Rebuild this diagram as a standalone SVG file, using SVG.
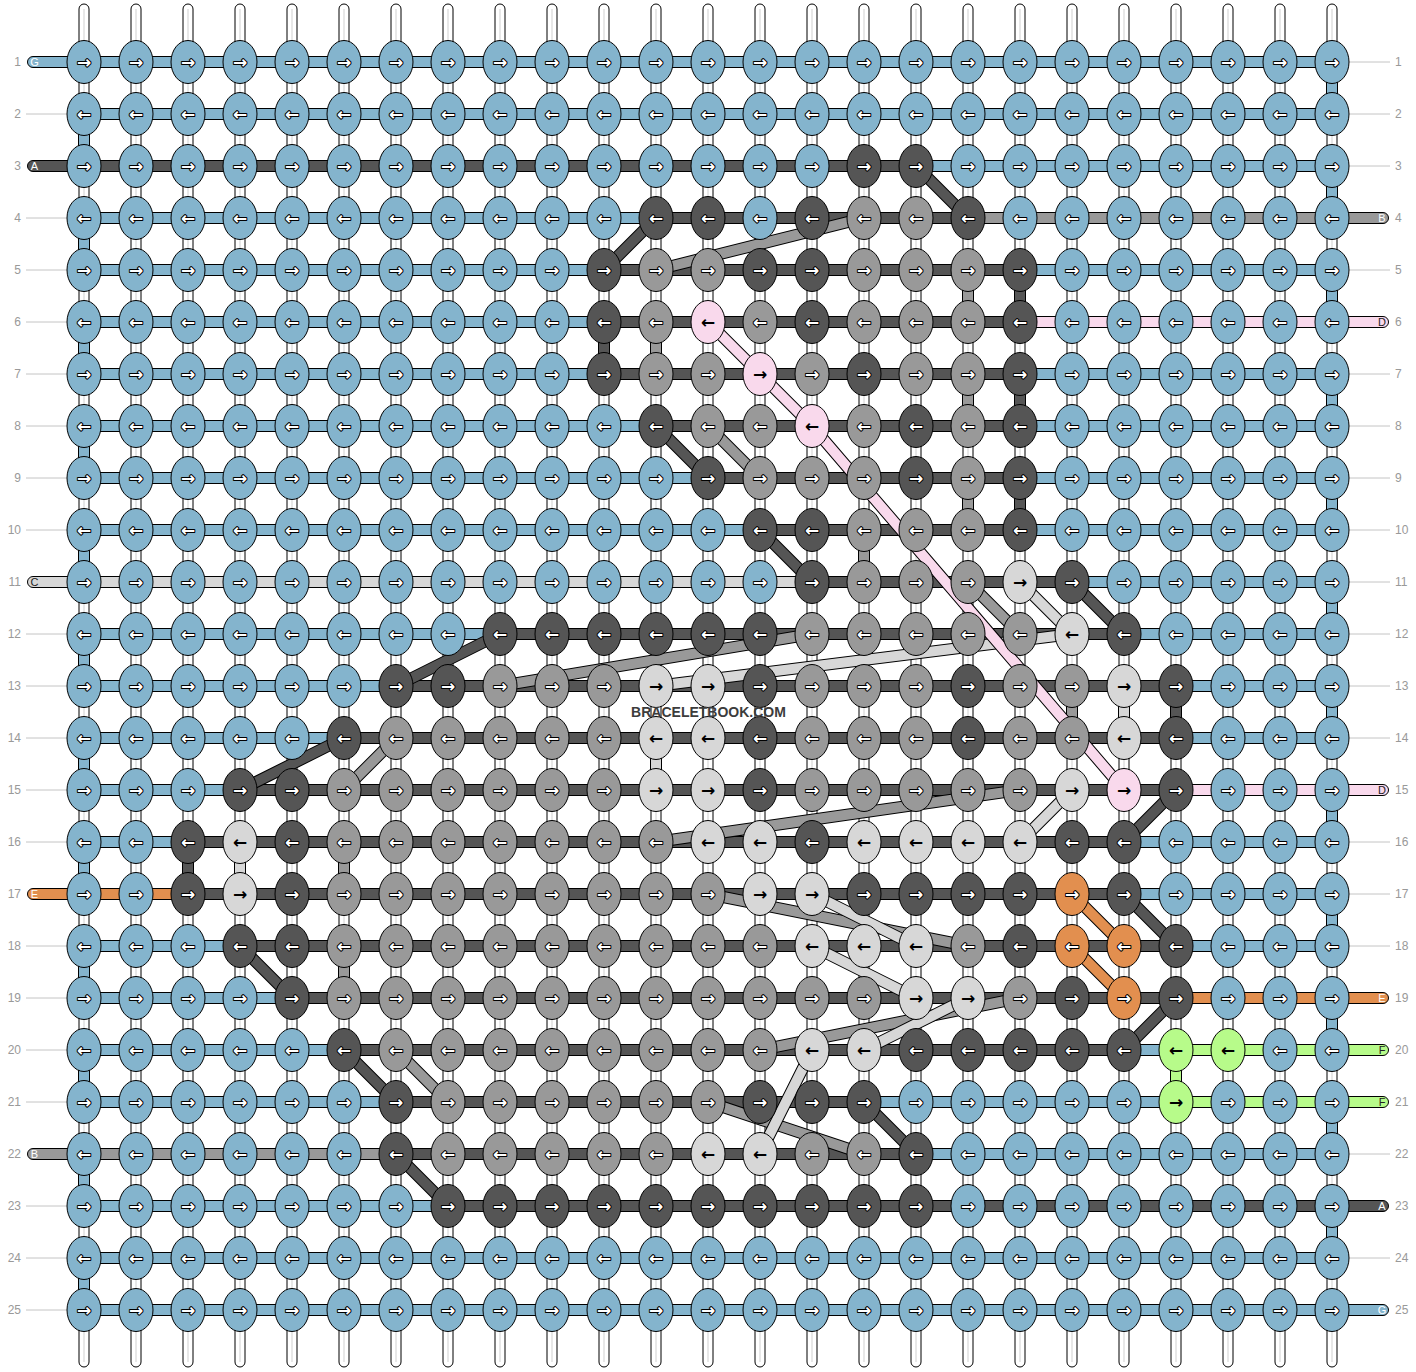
<svg xmlns="http://www.w3.org/2000/svg" width="1416" height="1372" viewBox="0 0 1416 1372">
<style>
.ws{fill:#fff;stroke:#000;stroke-width:1}
.wc{stroke:#cfcfcf;stroke-width:1;fill:none}
.o{fill:none;stroke:#000;stroke-width:12}
.b,.k,.g,.l,.p,.r,.n{fill:none;stroke-width:10}
.b{stroke:#84b4cd}.k{stroke:#555}.g{stroke:#999}.l{stroke:#d7d7d7}.p{stroke:#f9d9ec}.r{stroke:#e28f4f}.n{stroke:#b7fb8a}
.fb{fill:#84b4cd}.fk{fill:#555}.fg{fill:#999}.fl{fill:#d7d7d7}.fp{fill:#f9d9ec}.fr{fill:#e28f4f}.fn{fill:#b7fb8a}
.lab{stroke:#c4c4c4;stroke-width:1;fill:none}
.num{font-family:"Liberation Sans",Arial,sans-serif;font-size:12px;fill:#999}
.ne{text-anchor:end}
.stub{stroke:#000;stroke-width:1}
.sl{font-family:"Liberation Sans",Arial,sans-serif;font-size:11px;text-anchor:middle;dominant-baseline:central;fill:#fff}
.sd{fill:#222}
#knots ellipse{rx:17px;ry:21.5px;fill:#84b4cd;stroke:#000;stroke-width:1}
#knots text{font-family:"DejaVu Sans",sans-serif;font-size:17px;font-weight:bold;text-anchor:middle;dominant-baseline:central;fill:#fff;stroke:#000;stroke-width:2;paint-order:stroke;stroke-linejoin:round}
#knots .K ellipse{fill:#555}
#knots .G ellipse{fill:#999}
#knots .L ellipse{fill:#d7d7d7}
#knots .P ellipse{fill:#f9d9ec}
#knots .O ellipse{fill:#e28f4f}
#knots .N ellipse{fill:#b7fb8a}
#knots .L text,#knots .P text,#knots .N text{fill:#000;stroke:none}
.wm{font-family:"Liberation Sans",Arial,sans-serif;font-size:14px;font-weight:bold;fill:#3c3c3c;text-anchor:middle}
</style>
<g id="strings">
<rect class="ws" x="79" y="4" width="10" height="1363" rx="5"/><rect class="ws" x="131" y="4" width="10" height="1363" rx="5"/><rect class="ws" x="183" y="4" width="10" height="1363" rx="5"/><rect class="ws" x="235" y="4" width="10" height="1363" rx="5"/><rect class="ws" x="287" y="4" width="10" height="1363" rx="5"/><rect class="ws" x="339" y="4" width="10" height="1363" rx="5"/><rect class="ws" x="391" y="4" width="10" height="1363" rx="5"/><rect class="ws" x="443" y="4" width="10" height="1363" rx="5"/><rect class="ws" x="495" y="4" width="10" height="1363" rx="5"/><rect class="ws" x="547" y="4" width="10" height="1363" rx="5"/><rect class="ws" x="599" y="4" width="10" height="1363" rx="5"/><rect class="ws" x="651" y="4" width="10" height="1363" rx="5"/><rect class="ws" x="703" y="4" width="10" height="1363" rx="5"/><rect class="ws" x="755" y="4" width="10" height="1363" rx="5"/><rect class="ws" x="807" y="4" width="10" height="1363" rx="5"/><rect class="ws" x="859" y="4" width="10" height="1363" rx="5"/><rect class="ws" x="911" y="4" width="10" height="1363" rx="5"/><rect class="ws" x="963" y="4" width="10" height="1363" rx="5"/><rect class="ws" x="1015" y="4" width="10" height="1363" rx="5"/><rect class="ws" x="1067" y="4" width="10" height="1363" rx="5"/><rect class="ws" x="1119" y="4" width="10" height="1363" rx="5"/><rect class="ws" x="1171" y="4" width="10" height="1363" rx="5"/><rect class="ws" x="1223" y="4" width="10" height="1363" rx="5"/><rect class="ws" x="1275" y="4" width="10" height="1363" rx="5"/><rect class="ws" x="1327" y="4" width="10" height="1363" rx="5"/>
<path class="wc" d="M84 9V1362M136 9V1362M188 9V1362M240 9V1362M292 9V1362M344 9V1362M396 9V1362M448 9V1362M500 9V1362M552 9V1362M604 9V1362M656 9V1362M708 9V1362M760 9V1362M812 9V1362M864 9V1362M916 9V1362M968 9V1362M1020 9V1362M1072 9V1362M1124 9V1362M1176 9V1362M1228 9V1362M1280 9V1362M1332 9V1362"/>
</g>
<g id="labels">
<path class="lab" d="M26 114H67M26 218H67M26 270H67M26 322H67M26 374H67M26 426H67M26 478H67M26 530H67M26 634H67M26 686H67M26 738H67M26 790H67M26 842H67M26 946H67M26 998H67M26 1050H67M26 1102H67M26 1206H67M26 1258H67M26 1310H67M1349 62H1390M1349 114H1390M1349 166H1390M1349 270H1390M1349 374H1390M1349 426H1390M1349 478H1390M1349 530H1390M1349 582H1390M1349 634H1390M1349 686H1390M1349 738H1390M1349 842H1390M1349 894H1390M1349 946H1390M1349 1154H1390M1349 1258H1390"/>
<text class="num ne" x="21" y="66">1</text><text class="num ne" x="21" y="118">2</text><text class="num ne" x="21" y="170">3</text><text class="num ne" x="21" y="222">4</text><text class="num ne" x="21" y="274">5</text><text class="num ne" x="21" y="326">6</text><text class="num ne" x="21" y="378">7</text><text class="num ne" x="21" y="430">8</text><text class="num ne" x="21" y="482">9</text><text class="num ne" x="21" y="534">10</text><text class="num ne" x="21" y="586">11</text><text class="num ne" x="21" y="638">12</text><text class="num ne" x="21" y="690">13</text><text class="num ne" x="21" y="742">14</text><text class="num ne" x="21" y="794">15</text><text class="num ne" x="21" y="846">16</text><text class="num ne" x="21" y="898">17</text><text class="num ne" x="21" y="950">18</text><text class="num ne" x="21" y="1002">19</text><text class="num ne" x="21" y="1054">20</text><text class="num ne" x="21" y="1106">21</text><text class="num ne" x="21" y="1158">22</text><text class="num ne" x="21" y="1210">23</text><text class="num ne" x="21" y="1262">24</text><text class="num ne" x="21" y="1314">25</text>
<text class="num" x="1395" y="66">1</text><text class="num" x="1395" y="118">2</text><text class="num" x="1395" y="170">3</text><text class="num" x="1395" y="222">4</text><text class="num" x="1395" y="274">5</text><text class="num" x="1395" y="326">6</text><text class="num" x="1395" y="378">7</text><text class="num" x="1395" y="430">8</text><text class="num" x="1395" y="482">9</text><text class="num" x="1395" y="534">10</text><text class="num" x="1395" y="586">11</text><text class="num" x="1395" y="638">12</text><text class="num" x="1395" y="690">13</text><text class="num" x="1395" y="742">14</text><text class="num" x="1395" y="794">15</text><text class="num" x="1395" y="846">16</text><text class="num" x="1395" y="898">17</text><text class="num" x="1395" y="950">18</text><text class="num" x="1395" y="1002">19</text><text class="num" x="1395" y="1054">20</text><text class="num" x="1395" y="1106">21</text><text class="num" x="1395" y="1158">22</text><text class="num" x="1395" y="1210">23</text><text class="num" x="1395" y="1262">24</text><text class="num" x="1395" y="1314">25</text>
</g>
<g id="connectors">
<rect class="stub fb" x="27.5" y="56.5" width="60" height="11" rx="5.5"/>
<rect class="stub fk" x="27.5" y="160.5" width="60" height="11" rx="5.5"/>
<rect class="stub fl" x="27.5" y="576.5" width="60" height="11" rx="5.5"/>
<rect class="stub fr" x="27.5" y="888.5" width="60" height="11" rx="5.5"/>
<rect class="stub fg" x="27.5" y="1148.5" width="60" height="11" rx="5.5"/>
<rect class="stub fg" x="1328.5" y="212.5" width="60" height="11" rx="5.5"/>
<rect class="stub fp" x="1328.5" y="316.5" width="60" height="11" rx="5.5"/>
<rect class="stub fp" x="1328.5" y="784.5" width="60" height="11" rx="5.5"/>
<rect class="stub fr" x="1328.5" y="992.5" width="60" height="11" rx="5.5"/>
<rect class="stub fn" x="1328.5" y="1044.5" width="60" height="11" rx="5.5"/>
<rect class="stub fn" x="1328.5" y="1096.5" width="60" height="11" rx="5.5"/>
<rect class="stub fk" x="1328.5" y="1200.5" width="60" height="11" rx="5.5"/>
<rect class="stub fb" x="1328.5" y="1304.5" width="60" height="11" rx="5.5"/>
<text class="sl" x="34.5" y="62">G</text>
<text class="sl" x="34.5" y="166">A</text>
<text class="sl sd" x="34.5" y="582">C</text>
<text class="sl" x="34.5" y="894">E</text>
<text class="sl" x="34.5" y="1154">B</text>
<text class="sl" x="1382" y="218">B</text>
<text class="sl sd" x="1382" y="322">D</text>
<text class="sl sd" x="1382" y="790">D</text>
<text class="sl" x="1382" y="998">E</text>
<text class="sl sd" x="1382" y="1050">F</text>
<text class="sl sd" x="1382" y="1102">F</text>
<text class="sl" x="1382" y="1206">A</text>
<text class="sl" x="1382" y="1310">G</text>
<path class="o" d="M84 62H1332M84 114H1332M84 166H1332M84 218H1332M84 270H1332M84 322H1332M84 374H1332M84 426H1332M84 478H1332M84 530H1332M84 582H1332M84 634H1332M84 686H1332M84 738H1332M84 790H1332M84 842H1332M84 894H1332M84 946H1332M84 998H1332M84 1050H1332M84 1102H1332M84 1154H1332M84 1206H1332M84 1258H1332M84 1310H1332"/>
<path class="o" d="M1332 62V114M1332 166V218M1332 270V322M1332 374V426M1332 478V530M1332 582V634M1332 686V738M1332 790V842M1332 894V946M1332 998V1050M1332 1102V1154M1332 1206V1258M84 114V166M84 218V270M84 322V374M84 426V478M84 530V582M84 634V686M84 738V790M84 842V894M84 946V998M84 1050V1102M84 1154V1206M84 1258V1310M604 322V374M1020 270V322M1020 374V426M1020 478V530M1176 686V738M188 842V894M656 322V374M968 270V322M968 374V426M968 478V530M864 530V582M1072 686V738M344 842V894M344 946V998M1124 686V738M656 738V790M240 842V894M1176 1050V1102"/>
<path class="b" d="M84 62H1332M84 114H1332M916 166H1332M84 218H656M84 270H604M1020 270H1332M84 322H604M84 374H604M1020 374H1332M84 426H656M1020 426H1332M84 478H708M1020 478H1332M84 530H760M1020 530H1332M1072 582H1332M84 634H500M1124 634H1332M84 686H396M1176 686H1332M84 738H344M1176 738H1332M84 790H240M84 842H188M1124 842H1332M1124 894H1332M84 946H240M1176 946H1332M84 998H292M84 1050H344M1124 1050H1176M84 1102H396M864 1102H1176M916 1154H1332M84 1206H448M84 1258H1332M84 1310H1332M1332 62V114M1332 166V218M1332 270V322M1332 374V426M1332 478V530M1332 582V634M1332 686V738M1332 790V842M1332 894V946M1332 998V1050M1332 1102V1154M1332 1206V1258M84 114V166M84 218V270M84 322V374M84 426V478M84 530V582M84 634V686M84 738V790M84 842V894M84 946V998M84 1050V1102M84 1154V1206M84 1258V1310"/>
<path class="k" d="M84 166H916M656 218H968M604 270H1020M604 322H1020M604 374H1020M656 426H1020M708 478H1020M760 530H1020M812 582H1072M500 634H1124M396 686H1176M344 738H1176M240 790H1176M188 842H1124M188 894H1124M240 946H1176M292 998H1176M344 1050H1124M396 1102H864M396 1154H916M448 1206H1332M604 322V374M1020 270V322M1020 374V426M1020 478V530M1176 686V738M188 842V894"/>
<path class="g" d="M968 218H1332M84 1154H396M656 322V374M968 270V322M968 374V426M968 478V530M864 530V582M1072 686V738M344 842V894M344 946V998"/>
<path class="l" d="M84 582H812M1124 686V738M656 738V790M240 842V894"/>
<path class="p" d="M1020 322H1332M1176 790H1332"/>
<path class="r" d="M84 894H188M1176 998H1332"/>
<path class="n" d="M1176 1050H1332M1176 1102H1332M1176 1050V1102"/>
<path class="o" d="M916 166L968 218M656 218L604 270M656 426L708 478M760 530L812 582M1072 582L1124 634M500 634L396 686M344 738L240 790M1176 790L1124 842M1124 894L1176 946M240 946L292 998M1176 998L1124 1050M344 1050L396 1102M864 1102L916 1154M396 1154L448 1206"/>
<path class="k" d="M916 166L968 218M656 218L604 270M656 426L708 478M760 530L812 582M1072 582L1124 634M500 634L396 686M344 738L240 790M1176 790L1124 842M1124 894L1176 946M240 946L292 998M1176 998L1124 1050M344 1050L396 1102M864 1102L916 1154M396 1154L448 1206"/>
<path class="o" d="M864 218L656 270M708 426L760 478M968 582L1020 634M812 634L500 686M396 738L344 790M1020 790L656 842M708 894L968 946M1020 998L760 1050M396 1050L448 1102M708 1102L864 1154"/>
<path class="g" d="M864 218L656 270M708 426L760 478M968 582L1020 634M812 634L500 686M396 738L344 790M1020 790L656 842M708 894L968 946M1020 998L760 1050M396 1050L448 1102M708 1102L864 1154"/>
<path class="o" d="M1020 582L1072 634M1072 634L656 686M1072 790L1020 842M812 894L916 946M812 946L916 998M968 998L864 1050M812 1050L760 1154"/>
<path class="l" d="M1020 582L1072 634M1072 634L656 686M1072 790L1020 842M812 894L916 946M812 946L916 998M968 998L864 1050M812 1050L760 1154"/>
<path class="o" d="M708 322L760 374M760 374L812 426M812 426L1124 790M1072 894L1124 946M1072 946L1124 998"/>
<path class="p" d="M708 322L760 374M760 374L812 426M812 426L1124 790"/>
<path class="r" d="M1072 894L1124 946M1072 946L1124 998"/>
</g>
<g id="knots">
<g id="row1" transform="translate(0 62)">
<g id="k1_1" transform="translate(84)"><ellipse/><text>→</text></g><g id="k1_2" transform="translate(136)"><ellipse/><text>→</text></g><g id="k1_3" transform="translate(188)"><ellipse/><text>→</text></g><g id="k1_4" transform="translate(240)"><ellipse/><text>→</text></g><g id="k1_5" transform="translate(292)"><ellipse/><text>→</text></g><g id="k1_6" transform="translate(344)"><ellipse/><text>→</text></g><g id="k1_7" transform="translate(396)"><ellipse/><text>→</text></g><g id="k1_8" transform="translate(448)"><ellipse/><text>→</text></g><g id="k1_9" transform="translate(500)"><ellipse/><text>→</text></g><g id="k1_10" transform="translate(552)"><ellipse/><text>→</text></g><g id="k1_11" transform="translate(604)"><ellipse/><text>→</text></g><g id="k1_12" transform="translate(656)"><ellipse/><text>→</text></g><g id="k1_13" transform="translate(708)"><ellipse/><text>→</text></g><g id="k1_14" transform="translate(760)"><ellipse/><text>→</text></g><g id="k1_15" transform="translate(812)"><ellipse/><text>→</text></g><g id="k1_16" transform="translate(864)"><ellipse/><text>→</text></g><g id="k1_17" transform="translate(916)"><ellipse/><text>→</text></g><g id="k1_18" transform="translate(968)"><ellipse/><text>→</text></g><g id="k1_19" transform="translate(1020)"><ellipse/><text>→</text></g><g id="k1_20" transform="translate(1072)"><ellipse/><text>→</text></g><g id="k1_21" transform="translate(1124)"><ellipse/><text>→</text></g><g id="k1_22" transform="translate(1176)"><ellipse/><text>→</text></g><g id="k1_23" transform="translate(1228)"><ellipse/><text>→</text></g><g id="k1_24" transform="translate(1280)"><ellipse/><text>→</text></g><g id="k1_25" transform="translate(1332)"><ellipse/><text>→</text></g>
</g>
<g id="row2" transform="translate(0 114)">
<g id="k2_1" transform="translate(84)"><ellipse/><text>←</text></g><g id="k2_2" transform="translate(136)"><ellipse/><text>←</text></g><g id="k2_3" transform="translate(188)"><ellipse/><text>←</text></g><g id="k2_4" transform="translate(240)"><ellipse/><text>←</text></g><g id="k2_5" transform="translate(292)"><ellipse/><text>←</text></g><g id="k2_6" transform="translate(344)"><ellipse/><text>←</text></g><g id="k2_7" transform="translate(396)"><ellipse/><text>←</text></g><g id="k2_8" transform="translate(448)"><ellipse/><text>←</text></g><g id="k2_9" transform="translate(500)"><ellipse/><text>←</text></g><g id="k2_10" transform="translate(552)"><ellipse/><text>←</text></g><g id="k2_11" transform="translate(604)"><ellipse/><text>←</text></g><g id="k2_12" transform="translate(656)"><ellipse/><text>←</text></g><g id="k2_13" transform="translate(708)"><ellipse/><text>←</text></g><g id="k2_14" transform="translate(760)"><ellipse/><text>←</text></g><g id="k2_15" transform="translate(812)"><ellipse/><text>←</text></g><g id="k2_16" transform="translate(864)"><ellipse/><text>←</text></g><g id="k2_17" transform="translate(916)"><ellipse/><text>←</text></g><g id="k2_18" transform="translate(968)"><ellipse/><text>←</text></g><g id="k2_19" transform="translate(1020)"><ellipse/><text>←</text></g><g id="k2_20" transform="translate(1072)"><ellipse/><text>←</text></g><g id="k2_21" transform="translate(1124)"><ellipse/><text>←</text></g><g id="k2_22" transform="translate(1176)"><ellipse/><text>←</text></g><g id="k2_23" transform="translate(1228)"><ellipse/><text>←</text></g><g id="k2_24" transform="translate(1280)"><ellipse/><text>←</text></g><g id="k2_25" transform="translate(1332)"><ellipse/><text>←</text></g>
</g>
<g id="row3" transform="translate(0 166)">
<g id="k3_1" transform="translate(84)"><ellipse/><text>→</text></g><g id="k3_2" transform="translate(136)"><ellipse/><text>→</text></g><g id="k3_3" transform="translate(188)"><ellipse/><text>→</text></g><g id="k3_4" transform="translate(240)"><ellipse/><text>→</text></g><g id="k3_5" transform="translate(292)"><ellipse/><text>→</text></g><g id="k3_6" transform="translate(344)"><ellipse/><text>→</text></g><g id="k3_7" transform="translate(396)"><ellipse/><text>→</text></g><g id="k3_8" transform="translate(448)"><ellipse/><text>→</text></g><g id="k3_9" transform="translate(500)"><ellipse/><text>→</text></g><g id="k3_10" transform="translate(552)"><ellipse/><text>→</text></g><g id="k3_11" transform="translate(604)"><ellipse/><text>→</text></g><g id="k3_12" transform="translate(656)"><ellipse/><text>→</text></g><g id="k3_13" transform="translate(708)"><ellipse/><text>→</text></g><g id="k3_14" transform="translate(760)"><ellipse/><text>→</text></g><g id="k3_15" transform="translate(812)"><ellipse/><text>→</text></g><g id="k3_16" class="K" transform="translate(864)"><ellipse/><text>→</text></g><g id="k3_17" class="K" transform="translate(916)"><ellipse/><text>→</text></g><g id="k3_18" transform="translate(968)"><ellipse/><text>→</text></g><g id="k3_19" transform="translate(1020)"><ellipse/><text>→</text></g><g id="k3_20" transform="translate(1072)"><ellipse/><text>→</text></g><g id="k3_21" transform="translate(1124)"><ellipse/><text>→</text></g><g id="k3_22" transform="translate(1176)"><ellipse/><text>→</text></g><g id="k3_23" transform="translate(1228)"><ellipse/><text>→</text></g><g id="k3_24" transform="translate(1280)"><ellipse/><text>→</text></g><g id="k3_25" transform="translate(1332)"><ellipse/><text>→</text></g>
</g>
<g id="row4" transform="translate(0 218)">
<g id="k4_1" transform="translate(84)"><ellipse/><text>←</text></g><g id="k4_2" transform="translate(136)"><ellipse/><text>←</text></g><g id="k4_3" transform="translate(188)"><ellipse/><text>←</text></g><g id="k4_4" transform="translate(240)"><ellipse/><text>←</text></g><g id="k4_5" transform="translate(292)"><ellipse/><text>←</text></g><g id="k4_6" transform="translate(344)"><ellipse/><text>←</text></g><g id="k4_7" transform="translate(396)"><ellipse/><text>←</text></g><g id="k4_8" transform="translate(448)"><ellipse/><text>←</text></g><g id="k4_9" transform="translate(500)"><ellipse/><text>←</text></g><g id="k4_10" transform="translate(552)"><ellipse/><text>←</text></g><g id="k4_11" transform="translate(604)"><ellipse/><text>←</text></g><g id="k4_12" class="K" transform="translate(656)"><ellipse/><text>←</text></g><g id="k4_13" class="K" transform="translate(708)"><ellipse/><text>←</text></g><g id="k4_14" transform="translate(760)"><ellipse/><text>←</text></g><g id="k4_15" class="K" transform="translate(812)"><ellipse/><text>←</text></g><g id="k4_16" class="G" transform="translate(864)"><ellipse/><text>←</text></g><g id="k4_17" class="G" transform="translate(916)"><ellipse/><text>←</text></g><g id="k4_18" class="K" transform="translate(968)"><ellipse/><text>←</text></g><g id="k4_19" transform="translate(1020)"><ellipse/><text>←</text></g><g id="k4_20" transform="translate(1072)"><ellipse/><text>←</text></g><g id="k4_21" transform="translate(1124)"><ellipse/><text>←</text></g><g id="k4_22" transform="translate(1176)"><ellipse/><text>←</text></g><g id="k4_23" transform="translate(1228)"><ellipse/><text>←</text></g><g id="k4_24" transform="translate(1280)"><ellipse/><text>←</text></g><g id="k4_25" transform="translate(1332)"><ellipse/><text>←</text></g>
</g>
<g id="row5" transform="translate(0 270)">
<g id="k5_1" transform="translate(84)"><ellipse/><text>→</text></g><g id="k5_2" transform="translate(136)"><ellipse/><text>→</text></g><g id="k5_3" transform="translate(188)"><ellipse/><text>→</text></g><g id="k5_4" transform="translate(240)"><ellipse/><text>→</text></g><g id="k5_5" transform="translate(292)"><ellipse/><text>→</text></g><g id="k5_6" transform="translate(344)"><ellipse/><text>→</text></g><g id="k5_7" transform="translate(396)"><ellipse/><text>→</text></g><g id="k5_8" transform="translate(448)"><ellipse/><text>→</text></g><g id="k5_9" transform="translate(500)"><ellipse/><text>→</text></g><g id="k5_10" transform="translate(552)"><ellipse/><text>→</text></g><g id="k5_11" class="K" transform="translate(604)"><ellipse/><text>→</text></g><g id="k5_12" class="G" transform="translate(656)"><ellipse/><text>→</text></g><g id="k5_13" class="G" transform="translate(708)"><ellipse/><text>→</text></g><g id="k5_14" class="K" transform="translate(760)"><ellipse/><text>→</text></g><g id="k5_15" class="K" transform="translate(812)"><ellipse/><text>→</text></g><g id="k5_16" class="G" transform="translate(864)"><ellipse/><text>→</text></g><g id="k5_17" class="G" transform="translate(916)"><ellipse/><text>→</text></g><g id="k5_18" class="G" transform="translate(968)"><ellipse/><text>→</text></g><g id="k5_19" class="K" transform="translate(1020)"><ellipse/><text>→</text></g><g id="k5_20" transform="translate(1072)"><ellipse/><text>→</text></g><g id="k5_21" transform="translate(1124)"><ellipse/><text>→</text></g><g id="k5_22" transform="translate(1176)"><ellipse/><text>→</text></g><g id="k5_23" transform="translate(1228)"><ellipse/><text>→</text></g><g id="k5_24" transform="translate(1280)"><ellipse/><text>→</text></g><g id="k5_25" transform="translate(1332)"><ellipse/><text>→</text></g>
</g>
<g id="row6" transform="translate(0 322)">
<g id="k6_1" transform="translate(84)"><ellipse/><text>←</text></g><g id="k6_2" transform="translate(136)"><ellipse/><text>←</text></g><g id="k6_3" transform="translate(188)"><ellipse/><text>←</text></g><g id="k6_4" transform="translate(240)"><ellipse/><text>←</text></g><g id="k6_5" transform="translate(292)"><ellipse/><text>←</text></g><g id="k6_6" transform="translate(344)"><ellipse/><text>←</text></g><g id="k6_7" transform="translate(396)"><ellipse/><text>←</text></g><g id="k6_8" transform="translate(448)"><ellipse/><text>←</text></g><g id="k6_9" transform="translate(500)"><ellipse/><text>←</text></g><g id="k6_10" transform="translate(552)"><ellipse/><text>←</text></g><g id="k6_11" class="K" transform="translate(604)"><ellipse/><text>←</text></g><g id="k6_12" class="G" transform="translate(656)"><ellipse/><text>←</text></g><g id="k6_13" class="P" transform="translate(708)"><ellipse/><text>←</text></g><g id="k6_14" class="G" transform="translate(760)"><ellipse/><text>←</text></g><g id="k6_15" class="K" transform="translate(812)"><ellipse/><text>←</text></g><g id="k6_16" class="G" transform="translate(864)"><ellipse/><text>←</text></g><g id="k6_17" class="G" transform="translate(916)"><ellipse/><text>←</text></g><g id="k6_18" class="G" transform="translate(968)"><ellipse/><text>←</text></g><g id="k6_19" class="K" transform="translate(1020)"><ellipse/><text>←</text></g><g id="k6_20" transform="translate(1072)"><ellipse/><text>←</text></g><g id="k6_21" transform="translate(1124)"><ellipse/><text>←</text></g><g id="k6_22" transform="translate(1176)"><ellipse/><text>←</text></g><g id="k6_23" transform="translate(1228)"><ellipse/><text>←</text></g><g id="k6_24" transform="translate(1280)"><ellipse/><text>←</text></g><g id="k6_25" transform="translate(1332)"><ellipse/><text>←</text></g>
</g>
<g id="row7" transform="translate(0 374)">
<g id="k7_1" transform="translate(84)"><ellipse/><text>→</text></g><g id="k7_2" transform="translate(136)"><ellipse/><text>→</text></g><g id="k7_3" transform="translate(188)"><ellipse/><text>→</text></g><g id="k7_4" transform="translate(240)"><ellipse/><text>→</text></g><g id="k7_5" transform="translate(292)"><ellipse/><text>→</text></g><g id="k7_6" transform="translate(344)"><ellipse/><text>→</text></g><g id="k7_7" transform="translate(396)"><ellipse/><text>→</text></g><g id="k7_8" transform="translate(448)"><ellipse/><text>→</text></g><g id="k7_9" transform="translate(500)"><ellipse/><text>→</text></g><g id="k7_10" transform="translate(552)"><ellipse/><text>→</text></g><g id="k7_11" class="K" transform="translate(604)"><ellipse/><text>→</text></g><g id="k7_12" class="G" transform="translate(656)"><ellipse/><text>→</text></g><g id="k7_13" class="G" transform="translate(708)"><ellipse/><text>→</text></g><g id="k7_14" class="P" transform="translate(760)"><ellipse/><text>→</text></g><g id="k7_15" class="G" transform="translate(812)"><ellipse/><text>→</text></g><g id="k7_16" class="K" transform="translate(864)"><ellipse/><text>→</text></g><g id="k7_17" class="G" transform="translate(916)"><ellipse/><text>→</text></g><g id="k7_18" class="G" transform="translate(968)"><ellipse/><text>→</text></g><g id="k7_19" class="K" transform="translate(1020)"><ellipse/><text>→</text></g><g id="k7_20" transform="translate(1072)"><ellipse/><text>→</text></g><g id="k7_21" transform="translate(1124)"><ellipse/><text>→</text></g><g id="k7_22" transform="translate(1176)"><ellipse/><text>→</text></g><g id="k7_23" transform="translate(1228)"><ellipse/><text>→</text></g><g id="k7_24" transform="translate(1280)"><ellipse/><text>→</text></g><g id="k7_25" transform="translate(1332)"><ellipse/><text>→</text></g>
</g>
<g id="row8" transform="translate(0 426)">
<g id="k8_1" transform="translate(84)"><ellipse/><text>←</text></g><g id="k8_2" transform="translate(136)"><ellipse/><text>←</text></g><g id="k8_3" transform="translate(188)"><ellipse/><text>←</text></g><g id="k8_4" transform="translate(240)"><ellipse/><text>←</text></g><g id="k8_5" transform="translate(292)"><ellipse/><text>←</text></g><g id="k8_6" transform="translate(344)"><ellipse/><text>←</text></g><g id="k8_7" transform="translate(396)"><ellipse/><text>←</text></g><g id="k8_8" transform="translate(448)"><ellipse/><text>←</text></g><g id="k8_9" transform="translate(500)"><ellipse/><text>←</text></g><g id="k8_10" transform="translate(552)"><ellipse/><text>←</text></g><g id="k8_11" transform="translate(604)"><ellipse/><text>←</text></g><g id="k8_12" class="K" transform="translate(656)"><ellipse/><text>←</text></g><g id="k8_13" class="G" transform="translate(708)"><ellipse/><text>←</text></g><g id="k8_14" class="G" transform="translate(760)"><ellipse/><text>←</text></g><g id="k8_15" class="P" transform="translate(812)"><ellipse/><text>←</text></g><g id="k8_16" class="G" transform="translate(864)"><ellipse/><text>←</text></g><g id="k8_17" class="K" transform="translate(916)"><ellipse/><text>←</text></g><g id="k8_18" class="G" transform="translate(968)"><ellipse/><text>←</text></g><g id="k8_19" class="K" transform="translate(1020)"><ellipse/><text>←</text></g><g id="k8_20" transform="translate(1072)"><ellipse/><text>←</text></g><g id="k8_21" transform="translate(1124)"><ellipse/><text>←</text></g><g id="k8_22" transform="translate(1176)"><ellipse/><text>←</text></g><g id="k8_23" transform="translate(1228)"><ellipse/><text>←</text></g><g id="k8_24" transform="translate(1280)"><ellipse/><text>←</text></g><g id="k8_25" transform="translate(1332)"><ellipse/><text>←</text></g>
</g>
<g id="row9" transform="translate(0 478)">
<g id="k9_1" transform="translate(84)"><ellipse/><text>→</text></g><g id="k9_2" transform="translate(136)"><ellipse/><text>→</text></g><g id="k9_3" transform="translate(188)"><ellipse/><text>→</text></g><g id="k9_4" transform="translate(240)"><ellipse/><text>→</text></g><g id="k9_5" transform="translate(292)"><ellipse/><text>→</text></g><g id="k9_6" transform="translate(344)"><ellipse/><text>→</text></g><g id="k9_7" transform="translate(396)"><ellipse/><text>→</text></g><g id="k9_8" transform="translate(448)"><ellipse/><text>→</text></g><g id="k9_9" transform="translate(500)"><ellipse/><text>→</text></g><g id="k9_10" transform="translate(552)"><ellipse/><text>→</text></g><g id="k9_11" transform="translate(604)"><ellipse/><text>→</text></g><g id="k9_12" transform="translate(656)"><ellipse/><text>→</text></g><g id="k9_13" class="K" transform="translate(708)"><ellipse/><text>→</text></g><g id="k9_14" class="G" transform="translate(760)"><ellipse/><text>→</text></g><g id="k9_15" class="G" transform="translate(812)"><ellipse/><text>→</text></g><g id="k9_16" class="G" transform="translate(864)"><ellipse/><text>→</text></g><g id="k9_17" class="K" transform="translate(916)"><ellipse/><text>→</text></g><g id="k9_18" class="G" transform="translate(968)"><ellipse/><text>→</text></g><g id="k9_19" class="K" transform="translate(1020)"><ellipse/><text>→</text></g><g id="k9_20" transform="translate(1072)"><ellipse/><text>→</text></g><g id="k9_21" transform="translate(1124)"><ellipse/><text>→</text></g><g id="k9_22" transform="translate(1176)"><ellipse/><text>→</text></g><g id="k9_23" transform="translate(1228)"><ellipse/><text>→</text></g><g id="k9_24" transform="translate(1280)"><ellipse/><text>→</text></g><g id="k9_25" transform="translate(1332)"><ellipse/><text>→</text></g>
</g>
<g id="row10" transform="translate(0 530)">
<g id="k10_1" transform="translate(84)"><ellipse/><text>←</text></g><g id="k10_2" transform="translate(136)"><ellipse/><text>←</text></g><g id="k10_3" transform="translate(188)"><ellipse/><text>←</text></g><g id="k10_4" transform="translate(240)"><ellipse/><text>←</text></g><g id="k10_5" transform="translate(292)"><ellipse/><text>←</text></g><g id="k10_6" transform="translate(344)"><ellipse/><text>←</text></g><g id="k10_7" transform="translate(396)"><ellipse/><text>←</text></g><g id="k10_8" transform="translate(448)"><ellipse/><text>←</text></g><g id="k10_9" transform="translate(500)"><ellipse/><text>←</text></g><g id="k10_10" transform="translate(552)"><ellipse/><text>←</text></g><g id="k10_11" transform="translate(604)"><ellipse/><text>←</text></g><g id="k10_12" transform="translate(656)"><ellipse/><text>←</text></g><g id="k10_13" transform="translate(708)"><ellipse/><text>←</text></g><g id="k10_14" class="K" transform="translate(760)"><ellipse/><text>←</text></g><g id="k10_15" class="K" transform="translate(812)"><ellipse/><text>←</text></g><g id="k10_16" class="G" transform="translate(864)"><ellipse/><text>←</text></g><g id="k10_17" class="G" transform="translate(916)"><ellipse/><text>←</text></g><g id="k10_18" class="G" transform="translate(968)"><ellipse/><text>←</text></g><g id="k10_19" class="K" transform="translate(1020)"><ellipse/><text>←</text></g><g id="k10_20" transform="translate(1072)"><ellipse/><text>←</text></g><g id="k10_21" transform="translate(1124)"><ellipse/><text>←</text></g><g id="k10_22" transform="translate(1176)"><ellipse/><text>←</text></g><g id="k10_23" transform="translate(1228)"><ellipse/><text>←</text></g><g id="k10_24" transform="translate(1280)"><ellipse/><text>←</text></g><g id="k10_25" transform="translate(1332)"><ellipse/><text>←</text></g>
</g>
<g id="row11" transform="translate(0 582)">
<g id="k11_1" transform="translate(84)"><ellipse/><text>→</text></g><g id="k11_2" transform="translate(136)"><ellipse/><text>→</text></g><g id="k11_3" transform="translate(188)"><ellipse/><text>→</text></g><g id="k11_4" transform="translate(240)"><ellipse/><text>→</text></g><g id="k11_5" transform="translate(292)"><ellipse/><text>→</text></g><g id="k11_6" transform="translate(344)"><ellipse/><text>→</text></g><g id="k11_7" transform="translate(396)"><ellipse/><text>→</text></g><g id="k11_8" transform="translate(448)"><ellipse/><text>→</text></g><g id="k11_9" transform="translate(500)"><ellipse/><text>→</text></g><g id="k11_10" transform="translate(552)"><ellipse/><text>→</text></g><g id="k11_11" transform="translate(604)"><ellipse/><text>→</text></g><g id="k11_12" transform="translate(656)"><ellipse/><text>→</text></g><g id="k11_13" transform="translate(708)"><ellipse/><text>→</text></g><g id="k11_14" transform="translate(760)"><ellipse/><text>→</text></g><g id="k11_15" class="K" transform="translate(812)"><ellipse/><text>→</text></g><g id="k11_16" class="G" transform="translate(864)"><ellipse/><text>→</text></g><g id="k11_17" class="G" transform="translate(916)"><ellipse/><text>→</text></g><g id="k11_18" class="G" transform="translate(968)"><ellipse/><text>→</text></g><g id="k11_19" class="L" transform="translate(1020)"><ellipse/><text>→</text></g><g id="k11_20" class="K" transform="translate(1072)"><ellipse/><text>→</text></g><g id="k11_21" transform="translate(1124)"><ellipse/><text>→</text></g><g id="k11_22" transform="translate(1176)"><ellipse/><text>→</text></g><g id="k11_23" transform="translate(1228)"><ellipse/><text>→</text></g><g id="k11_24" transform="translate(1280)"><ellipse/><text>→</text></g><g id="k11_25" transform="translate(1332)"><ellipse/><text>→</text></g>
</g>
<g id="row12" transform="translate(0 634)">
<g id="k12_1" transform="translate(84)"><ellipse/><text>←</text></g><g id="k12_2" transform="translate(136)"><ellipse/><text>←</text></g><g id="k12_3" transform="translate(188)"><ellipse/><text>←</text></g><g id="k12_4" transform="translate(240)"><ellipse/><text>←</text></g><g id="k12_5" transform="translate(292)"><ellipse/><text>←</text></g><g id="k12_6" transform="translate(344)"><ellipse/><text>←</text></g><g id="k12_7" transform="translate(396)"><ellipse/><text>←</text></g><g id="k12_8" transform="translate(448)"><ellipse/><text>←</text></g><g id="k12_9" class="K" transform="translate(500)"><ellipse/><text>←</text></g><g id="k12_10" class="K" transform="translate(552)"><ellipse/><text>←</text></g><g id="k12_11" class="K" transform="translate(604)"><ellipse/><text>←</text></g><g id="k12_12" class="K" transform="translate(656)"><ellipse/><text>←</text></g><g id="k12_13" class="K" transform="translate(708)"><ellipse/><text>←</text></g><g id="k12_14" class="K" transform="translate(760)"><ellipse/><text>←</text></g><g id="k12_15" class="G" transform="translate(812)"><ellipse/><text>←</text></g><g id="k12_16" class="G" transform="translate(864)"><ellipse/><text>←</text></g><g id="k12_17" class="G" transform="translate(916)"><ellipse/><text>←</text></g><g id="k12_18" class="G" transform="translate(968)"><ellipse/><text>←</text></g><g id="k12_19" class="G" transform="translate(1020)"><ellipse/><text>←</text></g><g id="k12_20" class="L" transform="translate(1072)"><ellipse/><text>←</text></g><g id="k12_21" class="K" transform="translate(1124)"><ellipse/><text>←</text></g><g id="k12_22" transform="translate(1176)"><ellipse/><text>←</text></g><g id="k12_23" transform="translate(1228)"><ellipse/><text>←</text></g><g id="k12_24" transform="translate(1280)"><ellipse/><text>←</text></g><g id="k12_25" transform="translate(1332)"><ellipse/><text>←</text></g>
</g>
<g id="row13" transform="translate(0 686)">
<g id="k13_1" transform="translate(84)"><ellipse/><text>→</text></g><g id="k13_2" transform="translate(136)"><ellipse/><text>→</text></g><g id="k13_3" transform="translate(188)"><ellipse/><text>→</text></g><g id="k13_4" transform="translate(240)"><ellipse/><text>→</text></g><g id="k13_5" transform="translate(292)"><ellipse/><text>→</text></g><g id="k13_6" transform="translate(344)"><ellipse/><text>→</text></g><g id="k13_7" class="K" transform="translate(396)"><ellipse/><text>→</text></g><g id="k13_8" class="K" transform="translate(448)"><ellipse/><text>→</text></g><g id="k13_9" class="G" transform="translate(500)"><ellipse/><text>→</text></g><g id="k13_10" class="G" transform="translate(552)"><ellipse/><text>→</text></g><g id="k13_11" class="G" transform="translate(604)"><ellipse/><text>→</text></g><g id="k13_12" class="L" transform="translate(656)"><ellipse/><text>→</text></g><g id="k13_13" class="L" transform="translate(708)"><ellipse/><text>→</text></g><g id="k13_14" class="K" transform="translate(760)"><ellipse/><text>→</text></g><g id="k13_15" class="G" transform="translate(812)"><ellipse/><text>→</text></g><g id="k13_16" class="G" transform="translate(864)"><ellipse/><text>→</text></g><g id="k13_17" class="G" transform="translate(916)"><ellipse/><text>→</text></g><g id="k13_18" class="K" transform="translate(968)"><ellipse/><text>→</text></g><g id="k13_19" class="G" transform="translate(1020)"><ellipse/><text>→</text></g><g id="k13_20" class="G" transform="translate(1072)"><ellipse/><text>→</text></g><g id="k13_21" class="L" transform="translate(1124)"><ellipse/><text>→</text></g><g id="k13_22" class="K" transform="translate(1176)"><ellipse/><text>→</text></g><g id="k13_23" transform="translate(1228)"><ellipse/><text>→</text></g><g id="k13_24" transform="translate(1280)"><ellipse/><text>→</text></g><g id="k13_25" transform="translate(1332)"><ellipse/><text>→</text></g>
</g>
<g id="row14" transform="translate(0 738)">
<g id="k14_1" transform="translate(84)"><ellipse/><text>←</text></g><g id="k14_2" transform="translate(136)"><ellipse/><text>←</text></g><g id="k14_3" transform="translate(188)"><ellipse/><text>←</text></g><g id="k14_4" transform="translate(240)"><ellipse/><text>←</text></g><g id="k14_5" transform="translate(292)"><ellipse/><text>←</text></g><g id="k14_6" class="K" transform="translate(344)"><ellipse/><text>←</text></g><g id="k14_7" class="G" transform="translate(396)"><ellipse/><text>←</text></g><g id="k14_8" class="G" transform="translate(448)"><ellipse/><text>←</text></g><g id="k14_9" class="G" transform="translate(500)"><ellipse/><text>←</text></g><g id="k14_10" class="G" transform="translate(552)"><ellipse/><text>←</text></g><g id="k14_11" class="G" transform="translate(604)"><ellipse/><text>←</text></g><g id="k14_12" class="L" transform="translate(656)"><ellipse/><text>←</text></g><g id="k14_13" class="L" transform="translate(708)"><ellipse/><text>←</text></g><g id="k14_14" class="K" transform="translate(760)"><ellipse/><text>←</text></g><g id="k14_15" class="G" transform="translate(812)"><ellipse/><text>←</text></g><g id="k14_16" class="G" transform="translate(864)"><ellipse/><text>←</text></g><g id="k14_17" class="G" transform="translate(916)"><ellipse/><text>←</text></g><g id="k14_18" class="K" transform="translate(968)"><ellipse/><text>←</text></g><g id="k14_19" class="G" transform="translate(1020)"><ellipse/><text>←</text></g><g id="k14_20" class="G" transform="translate(1072)"><ellipse/><text>←</text></g><g id="k14_21" class="L" transform="translate(1124)"><ellipse/><text>←</text></g><g id="k14_22" class="K" transform="translate(1176)"><ellipse/><text>←</text></g><g id="k14_23" transform="translate(1228)"><ellipse/><text>←</text></g><g id="k14_24" transform="translate(1280)"><ellipse/><text>←</text></g><g id="k14_25" transform="translate(1332)"><ellipse/><text>←</text></g>
</g>
<g id="row15" transform="translate(0 790)">
<g id="k15_1" transform="translate(84)"><ellipse/><text>→</text></g><g id="k15_2" transform="translate(136)"><ellipse/><text>→</text></g><g id="k15_3" transform="translate(188)"><ellipse/><text>→</text></g><g id="k15_4" class="K" transform="translate(240)"><ellipse/><text>→</text></g><g id="k15_5" class="K" transform="translate(292)"><ellipse/><text>→</text></g><g id="k15_6" class="G" transform="translate(344)"><ellipse/><text>→</text></g><g id="k15_7" class="G" transform="translate(396)"><ellipse/><text>→</text></g><g id="k15_8" class="G" transform="translate(448)"><ellipse/><text>→</text></g><g id="k15_9" class="G" transform="translate(500)"><ellipse/><text>→</text></g><g id="k15_10" class="G" transform="translate(552)"><ellipse/><text>→</text></g><g id="k15_11" class="G" transform="translate(604)"><ellipse/><text>→</text></g><g id="k15_12" class="L" transform="translate(656)"><ellipse/><text>→</text></g><g id="k15_13" class="L" transform="translate(708)"><ellipse/><text>→</text></g><g id="k15_14" class="K" transform="translate(760)"><ellipse/><text>→</text></g><g id="k15_15" class="G" transform="translate(812)"><ellipse/><text>→</text></g><g id="k15_16" class="G" transform="translate(864)"><ellipse/><text>→</text></g><g id="k15_17" class="G" transform="translate(916)"><ellipse/><text>→</text></g><g id="k15_18" class="G" transform="translate(968)"><ellipse/><text>→</text></g><g id="k15_19" class="G" transform="translate(1020)"><ellipse/><text>→</text></g><g id="k15_20" class="L" transform="translate(1072)"><ellipse/><text>→</text></g><g id="k15_21" class="P" transform="translate(1124)"><ellipse/><text>→</text></g><g id="k15_22" class="K" transform="translate(1176)"><ellipse/><text>→</text></g><g id="k15_23" transform="translate(1228)"><ellipse/><text>→</text></g><g id="k15_24" transform="translate(1280)"><ellipse/><text>→</text></g><g id="k15_25" transform="translate(1332)"><ellipse/><text>→</text></g>
</g>
<g id="row16" transform="translate(0 842)">
<g id="k16_1" transform="translate(84)"><ellipse/><text>←</text></g><g id="k16_2" transform="translate(136)"><ellipse/><text>←</text></g><g id="k16_3" class="K" transform="translate(188)"><ellipse/><text>←</text></g><g id="k16_4" class="L" transform="translate(240)"><ellipse/><text>←</text></g><g id="k16_5" class="K" transform="translate(292)"><ellipse/><text>←</text></g><g id="k16_6" class="G" transform="translate(344)"><ellipse/><text>←</text></g><g id="k16_7" class="G" transform="translate(396)"><ellipse/><text>←</text></g><g id="k16_8" class="G" transform="translate(448)"><ellipse/><text>←</text></g><g id="k16_9" class="G" transform="translate(500)"><ellipse/><text>←</text></g><g id="k16_10" class="G" transform="translate(552)"><ellipse/><text>←</text></g><g id="k16_11" class="G" transform="translate(604)"><ellipse/><text>←</text></g><g id="k16_12" class="G" transform="translate(656)"><ellipse/><text>←</text></g><g id="k16_13" class="L" transform="translate(708)"><ellipse/><text>←</text></g><g id="k16_14" class="L" transform="translate(760)"><ellipse/><text>←</text></g><g id="k16_15" class="K" transform="translate(812)"><ellipse/><text>←</text></g><g id="k16_16" class="L" transform="translate(864)"><ellipse/><text>←</text></g><g id="k16_17" class="L" transform="translate(916)"><ellipse/><text>←</text></g><g id="k16_18" class="L" transform="translate(968)"><ellipse/><text>←</text></g><g id="k16_19" class="L" transform="translate(1020)"><ellipse/><text>←</text></g><g id="k16_20" class="K" transform="translate(1072)"><ellipse/><text>←</text></g><g id="k16_21" class="K" transform="translate(1124)"><ellipse/><text>←</text></g><g id="k16_22" transform="translate(1176)"><ellipse/><text>←</text></g><g id="k16_23" transform="translate(1228)"><ellipse/><text>←</text></g><g id="k16_24" transform="translate(1280)"><ellipse/><text>←</text></g><g id="k16_25" transform="translate(1332)"><ellipse/><text>←</text></g>
</g>
<g id="row17" transform="translate(0 894)">
<g id="k17_1" transform="translate(84)"><ellipse/><text>→</text></g><g id="k17_2" transform="translate(136)"><ellipse/><text>→</text></g><g id="k17_3" class="K" transform="translate(188)"><ellipse/><text>→</text></g><g id="k17_4" class="L" transform="translate(240)"><ellipse/><text>→</text></g><g id="k17_5" class="K" transform="translate(292)"><ellipse/><text>→</text></g><g id="k17_6" class="G" transform="translate(344)"><ellipse/><text>→</text></g><g id="k17_7" class="G" transform="translate(396)"><ellipse/><text>→</text></g><g id="k17_8" class="G" transform="translate(448)"><ellipse/><text>→</text></g><g id="k17_9" class="G" transform="translate(500)"><ellipse/><text>→</text></g><g id="k17_10" class="G" transform="translate(552)"><ellipse/><text>→</text></g><g id="k17_11" class="G" transform="translate(604)"><ellipse/><text>→</text></g><g id="k17_12" class="G" transform="translate(656)"><ellipse/><text>→</text></g><g id="k17_13" class="G" transform="translate(708)"><ellipse/><text>→</text></g><g id="k17_14" class="L" transform="translate(760)"><ellipse/><text>→</text></g><g id="k17_15" class="L" transform="translate(812)"><ellipse/><text>→</text></g><g id="k17_16" class="K" transform="translate(864)"><ellipse/><text>→</text></g><g id="k17_17" class="K" transform="translate(916)"><ellipse/><text>→</text></g><g id="k17_18" class="K" transform="translate(968)"><ellipse/><text>→</text></g><g id="k17_19" class="K" transform="translate(1020)"><ellipse/><text>→</text></g><g id="k17_20" class="O" transform="translate(1072)"><ellipse/><text>→</text></g><g id="k17_21" class="K" transform="translate(1124)"><ellipse/><text>→</text></g><g id="k17_22" transform="translate(1176)"><ellipse/><text>→</text></g><g id="k17_23" transform="translate(1228)"><ellipse/><text>→</text></g><g id="k17_24" transform="translate(1280)"><ellipse/><text>→</text></g><g id="k17_25" transform="translate(1332)"><ellipse/><text>→</text></g>
</g>
<g id="row18" transform="translate(0 946)">
<g id="k18_1" transform="translate(84)"><ellipse/><text>←</text></g><g id="k18_2" transform="translate(136)"><ellipse/><text>←</text></g><g id="k18_3" transform="translate(188)"><ellipse/><text>←</text></g><g id="k18_4" class="K" transform="translate(240)"><ellipse/><text>←</text></g><g id="k18_5" class="K" transform="translate(292)"><ellipse/><text>←</text></g><g id="k18_6" class="G" transform="translate(344)"><ellipse/><text>←</text></g><g id="k18_7" class="G" transform="translate(396)"><ellipse/><text>←</text></g><g id="k18_8" class="G" transform="translate(448)"><ellipse/><text>←</text></g><g id="k18_9" class="G" transform="translate(500)"><ellipse/><text>←</text></g><g id="k18_10" class="G" transform="translate(552)"><ellipse/><text>←</text></g><g id="k18_11" class="G" transform="translate(604)"><ellipse/><text>←</text></g><g id="k18_12" class="G" transform="translate(656)"><ellipse/><text>←</text></g><g id="k18_13" class="G" transform="translate(708)"><ellipse/><text>←</text></g><g id="k18_14" class="G" transform="translate(760)"><ellipse/><text>←</text></g><g id="k18_15" class="L" transform="translate(812)"><ellipse/><text>←</text></g><g id="k18_16" class="L" transform="translate(864)"><ellipse/><text>←</text></g><g id="k18_17" class="L" transform="translate(916)"><ellipse/><text>←</text></g><g id="k18_18" class="G" transform="translate(968)"><ellipse/><text>←</text></g><g id="k18_19" class="K" transform="translate(1020)"><ellipse/><text>←</text></g><g id="k18_20" class="O" transform="translate(1072)"><ellipse/><text>←</text></g><g id="k18_21" class="O" transform="translate(1124)"><ellipse/><text>←</text></g><g id="k18_22" class="K" transform="translate(1176)"><ellipse/><text>←</text></g><g id="k18_23" transform="translate(1228)"><ellipse/><text>←</text></g><g id="k18_24" transform="translate(1280)"><ellipse/><text>←</text></g><g id="k18_25" transform="translate(1332)"><ellipse/><text>←</text></g>
</g>
<g id="row19" transform="translate(0 998)">
<g id="k19_1" transform="translate(84)"><ellipse/><text>→</text></g><g id="k19_2" transform="translate(136)"><ellipse/><text>→</text></g><g id="k19_3" transform="translate(188)"><ellipse/><text>→</text></g><g id="k19_4" transform="translate(240)"><ellipse/><text>→</text></g><g id="k19_5" class="K" transform="translate(292)"><ellipse/><text>→</text></g><g id="k19_6" class="G" transform="translate(344)"><ellipse/><text>→</text></g><g id="k19_7" class="G" transform="translate(396)"><ellipse/><text>→</text></g><g id="k19_8" class="G" transform="translate(448)"><ellipse/><text>→</text></g><g id="k19_9" class="G" transform="translate(500)"><ellipse/><text>→</text></g><g id="k19_10" class="G" transform="translate(552)"><ellipse/><text>→</text></g><g id="k19_11" class="G" transform="translate(604)"><ellipse/><text>→</text></g><g id="k19_12" class="G" transform="translate(656)"><ellipse/><text>→</text></g><g id="k19_13" class="G" transform="translate(708)"><ellipse/><text>→</text></g><g id="k19_14" class="G" transform="translate(760)"><ellipse/><text>→</text></g><g id="k19_15" class="G" transform="translate(812)"><ellipse/><text>→</text></g><g id="k19_16" class="G" transform="translate(864)"><ellipse/><text>→</text></g><g id="k19_17" class="L" transform="translate(916)"><ellipse/><text>→</text></g><g id="k19_18" class="L" transform="translate(968)"><ellipse/><text>→</text></g><g id="k19_19" class="G" transform="translate(1020)"><ellipse/><text>→</text></g><g id="k19_20" class="K" transform="translate(1072)"><ellipse/><text>→</text></g><g id="k19_21" class="O" transform="translate(1124)"><ellipse/><text>→</text></g><g id="k19_22" class="K" transform="translate(1176)"><ellipse/><text>→</text></g><g id="k19_23" transform="translate(1228)"><ellipse/><text>→</text></g><g id="k19_24" transform="translate(1280)"><ellipse/><text>→</text></g><g id="k19_25" transform="translate(1332)"><ellipse/><text>→</text></g>
</g>
<g id="row20" transform="translate(0 1050)">
<g id="k20_1" transform="translate(84)"><ellipse/><text>←</text></g><g id="k20_2" transform="translate(136)"><ellipse/><text>←</text></g><g id="k20_3" transform="translate(188)"><ellipse/><text>←</text></g><g id="k20_4" transform="translate(240)"><ellipse/><text>←</text></g><g id="k20_5" transform="translate(292)"><ellipse/><text>←</text></g><g id="k20_6" class="K" transform="translate(344)"><ellipse/><text>←</text></g><g id="k20_7" class="G" transform="translate(396)"><ellipse/><text>←</text></g><g id="k20_8" class="G" transform="translate(448)"><ellipse/><text>←</text></g><g id="k20_9" class="G" transform="translate(500)"><ellipse/><text>←</text></g><g id="k20_10" class="G" transform="translate(552)"><ellipse/><text>←</text></g><g id="k20_11" class="G" transform="translate(604)"><ellipse/><text>←</text></g><g id="k20_12" class="G" transform="translate(656)"><ellipse/><text>←</text></g><g id="k20_13" class="G" transform="translate(708)"><ellipse/><text>←</text></g><g id="k20_14" class="G" transform="translate(760)"><ellipse/><text>←</text></g><g id="k20_15" class="L" transform="translate(812)"><ellipse/><text>←</text></g><g id="k20_16" class="L" transform="translate(864)"><ellipse/><text>←</text></g><g id="k20_17" class="K" transform="translate(916)"><ellipse/><text>←</text></g><g id="k20_18" class="K" transform="translate(968)"><ellipse/><text>←</text></g><g id="k20_19" class="K" transform="translate(1020)"><ellipse/><text>←</text></g><g id="k20_20" class="K" transform="translate(1072)"><ellipse/><text>←</text></g><g id="k20_21" class="K" transform="translate(1124)"><ellipse/><text>←</text></g><g id="k20_22" class="N" transform="translate(1176)"><ellipse/><text>←</text></g><g id="k20_23" class="N" transform="translate(1228)"><ellipse/><text>←</text></g><g id="k20_24" transform="translate(1280)"><ellipse/><text>←</text></g><g id="k20_25" transform="translate(1332)"><ellipse/><text>←</text></g>
</g>
<g id="row21" transform="translate(0 1102)">
<g id="k21_1" transform="translate(84)"><ellipse/><text>→</text></g><g id="k21_2" transform="translate(136)"><ellipse/><text>→</text></g><g id="k21_3" transform="translate(188)"><ellipse/><text>→</text></g><g id="k21_4" transform="translate(240)"><ellipse/><text>→</text></g><g id="k21_5" transform="translate(292)"><ellipse/><text>→</text></g><g id="k21_6" transform="translate(344)"><ellipse/><text>→</text></g><g id="k21_7" class="K" transform="translate(396)"><ellipse/><text>→</text></g><g id="k21_8" class="G" transform="translate(448)"><ellipse/><text>→</text></g><g id="k21_9" class="G" transform="translate(500)"><ellipse/><text>→</text></g><g id="k21_10" class="G" transform="translate(552)"><ellipse/><text>→</text></g><g id="k21_11" class="G" transform="translate(604)"><ellipse/><text>→</text></g><g id="k21_12" class="G" transform="translate(656)"><ellipse/><text>→</text></g><g id="k21_13" class="G" transform="translate(708)"><ellipse/><text>→</text></g><g id="k21_14" class="K" transform="translate(760)"><ellipse/><text>→</text></g><g id="k21_15" class="K" transform="translate(812)"><ellipse/><text>→</text></g><g id="k21_16" class="K" transform="translate(864)"><ellipse/><text>→</text></g><g id="k21_17" transform="translate(916)"><ellipse/><text>→</text></g><g id="k21_18" transform="translate(968)"><ellipse/><text>→</text></g><g id="k21_19" transform="translate(1020)"><ellipse/><text>→</text></g><g id="k21_20" transform="translate(1072)"><ellipse/><text>→</text></g><g id="k21_21" transform="translate(1124)"><ellipse/><text>→</text></g><g id="k21_22" class="N" transform="translate(1176)"><ellipse/><text>→</text></g><g id="k21_23" transform="translate(1228)"><ellipse/><text>→</text></g><g id="k21_24" transform="translate(1280)"><ellipse/><text>→</text></g><g id="k21_25" transform="translate(1332)"><ellipse/><text>→</text></g>
</g>
<g id="row22" transform="translate(0 1154)">
<g id="k22_1" transform="translate(84)"><ellipse/><text>←</text></g><g id="k22_2" transform="translate(136)"><ellipse/><text>←</text></g><g id="k22_3" transform="translate(188)"><ellipse/><text>←</text></g><g id="k22_4" transform="translate(240)"><ellipse/><text>←</text></g><g id="k22_5" transform="translate(292)"><ellipse/><text>←</text></g><g id="k22_6" transform="translate(344)"><ellipse/><text>←</text></g><g id="k22_7" class="K" transform="translate(396)"><ellipse/><text>←</text></g><g id="k22_8" class="G" transform="translate(448)"><ellipse/><text>←</text></g><g id="k22_9" class="G" transform="translate(500)"><ellipse/><text>←</text></g><g id="k22_10" class="G" transform="translate(552)"><ellipse/><text>←</text></g><g id="k22_11" class="G" transform="translate(604)"><ellipse/><text>←</text></g><g id="k22_12" class="G" transform="translate(656)"><ellipse/><text>←</text></g><g id="k22_13" class="L" transform="translate(708)"><ellipse/><text>←</text></g><g id="k22_14" class="L" transform="translate(760)"><ellipse/><text>←</text></g><g id="k22_15" class="G" transform="translate(812)"><ellipse/><text>←</text></g><g id="k22_16" class="G" transform="translate(864)"><ellipse/><text>←</text></g><g id="k22_17" class="K" transform="translate(916)"><ellipse/><text>←</text></g><g id="k22_18" transform="translate(968)"><ellipse/><text>←</text></g><g id="k22_19" transform="translate(1020)"><ellipse/><text>←</text></g><g id="k22_20" transform="translate(1072)"><ellipse/><text>←</text></g><g id="k22_21" transform="translate(1124)"><ellipse/><text>←</text></g><g id="k22_22" transform="translate(1176)"><ellipse/><text>←</text></g><g id="k22_23" transform="translate(1228)"><ellipse/><text>←</text></g><g id="k22_24" transform="translate(1280)"><ellipse/><text>←</text></g><g id="k22_25" transform="translate(1332)"><ellipse/><text>←</text></g>
</g>
<g id="row23" transform="translate(0 1206)">
<g id="k23_1" transform="translate(84)"><ellipse/><text>→</text></g><g id="k23_2" transform="translate(136)"><ellipse/><text>→</text></g><g id="k23_3" transform="translate(188)"><ellipse/><text>→</text></g><g id="k23_4" transform="translate(240)"><ellipse/><text>→</text></g><g id="k23_5" transform="translate(292)"><ellipse/><text>→</text></g><g id="k23_6" transform="translate(344)"><ellipse/><text>→</text></g><g id="k23_7" transform="translate(396)"><ellipse/><text>→</text></g><g id="k23_8" class="K" transform="translate(448)"><ellipse/><text>→</text></g><g id="k23_9" class="K" transform="translate(500)"><ellipse/><text>→</text></g><g id="k23_10" class="K" transform="translate(552)"><ellipse/><text>→</text></g><g id="k23_11" class="K" transform="translate(604)"><ellipse/><text>→</text></g><g id="k23_12" class="K" transform="translate(656)"><ellipse/><text>→</text></g><g id="k23_13" class="K" transform="translate(708)"><ellipse/><text>→</text></g><g id="k23_14" class="K" transform="translate(760)"><ellipse/><text>→</text></g><g id="k23_15" class="K" transform="translate(812)"><ellipse/><text>→</text></g><g id="k23_16" class="K" transform="translate(864)"><ellipse/><text>→</text></g><g id="k23_17" class="K" transform="translate(916)"><ellipse/><text>→</text></g><g id="k23_18" transform="translate(968)"><ellipse/><text>→</text></g><g id="k23_19" transform="translate(1020)"><ellipse/><text>→</text></g><g id="k23_20" transform="translate(1072)"><ellipse/><text>→</text></g><g id="k23_21" transform="translate(1124)"><ellipse/><text>→</text></g><g id="k23_22" transform="translate(1176)"><ellipse/><text>→</text></g><g id="k23_23" transform="translate(1228)"><ellipse/><text>→</text></g><g id="k23_24" transform="translate(1280)"><ellipse/><text>→</text></g><g id="k23_25" transform="translate(1332)"><ellipse/><text>→</text></g>
</g>
<g id="row24" transform="translate(0 1258)">
<g id="k24_1" transform="translate(84)"><ellipse/><text>←</text></g><g id="k24_2" transform="translate(136)"><ellipse/><text>←</text></g><g id="k24_3" transform="translate(188)"><ellipse/><text>←</text></g><g id="k24_4" transform="translate(240)"><ellipse/><text>←</text></g><g id="k24_5" transform="translate(292)"><ellipse/><text>←</text></g><g id="k24_6" transform="translate(344)"><ellipse/><text>←</text></g><g id="k24_7" transform="translate(396)"><ellipse/><text>←</text></g><g id="k24_8" transform="translate(448)"><ellipse/><text>←</text></g><g id="k24_9" transform="translate(500)"><ellipse/><text>←</text></g><g id="k24_10" transform="translate(552)"><ellipse/><text>←</text></g><g id="k24_11" transform="translate(604)"><ellipse/><text>←</text></g><g id="k24_12" transform="translate(656)"><ellipse/><text>←</text></g><g id="k24_13" transform="translate(708)"><ellipse/><text>←</text></g><g id="k24_14" transform="translate(760)"><ellipse/><text>←</text></g><g id="k24_15" transform="translate(812)"><ellipse/><text>←</text></g><g id="k24_16" transform="translate(864)"><ellipse/><text>←</text></g><g id="k24_17" transform="translate(916)"><ellipse/><text>←</text></g><g id="k24_18" transform="translate(968)"><ellipse/><text>←</text></g><g id="k24_19" transform="translate(1020)"><ellipse/><text>←</text></g><g id="k24_20" transform="translate(1072)"><ellipse/><text>←</text></g><g id="k24_21" transform="translate(1124)"><ellipse/><text>←</text></g><g id="k24_22" transform="translate(1176)"><ellipse/><text>←</text></g><g id="k24_23" transform="translate(1228)"><ellipse/><text>←</text></g><g id="k24_24" transform="translate(1280)"><ellipse/><text>←</text></g><g id="k24_25" transform="translate(1332)"><ellipse/><text>←</text></g>
</g>
<g id="row25" transform="translate(0 1310)">
<g id="k25_1" transform="translate(84)"><ellipse/><text>→</text></g><g id="k25_2" transform="translate(136)"><ellipse/><text>→</text></g><g id="k25_3" transform="translate(188)"><ellipse/><text>→</text></g><g id="k25_4" transform="translate(240)"><ellipse/><text>→</text></g><g id="k25_5" transform="translate(292)"><ellipse/><text>→</text></g><g id="k25_6" transform="translate(344)"><ellipse/><text>→</text></g><g id="k25_7" transform="translate(396)"><ellipse/><text>→</text></g><g id="k25_8" transform="translate(448)"><ellipse/><text>→</text></g><g id="k25_9" transform="translate(500)"><ellipse/><text>→</text></g><g id="k25_10" transform="translate(552)"><ellipse/><text>→</text></g><g id="k25_11" transform="translate(604)"><ellipse/><text>→</text></g><g id="k25_12" transform="translate(656)"><ellipse/><text>→</text></g><g id="k25_13" transform="translate(708)"><ellipse/><text>→</text></g><g id="k25_14" transform="translate(760)"><ellipse/><text>→</text></g><g id="k25_15" transform="translate(812)"><ellipse/><text>→</text></g><g id="k25_16" transform="translate(864)"><ellipse/><text>→</text></g><g id="k25_17" transform="translate(916)"><ellipse/><text>→</text></g><g id="k25_18" transform="translate(968)"><ellipse/><text>→</text></g><g id="k25_19" transform="translate(1020)"><ellipse/><text>→</text></g><g id="k25_20" transform="translate(1072)"><ellipse/><text>→</text></g><g id="k25_21" transform="translate(1124)"><ellipse/><text>→</text></g><g id="k25_22" transform="translate(1176)"><ellipse/><text>→</text></g><g id="k25_23" transform="translate(1228)"><ellipse/><text>→</text></g><g id="k25_24" transform="translate(1280)"><ellipse/><text>→</text></g><g id="k25_25" transform="translate(1332)"><ellipse/><text>→</text></g>
</g>
</g>
<text class="wm" x="708.5" y="717">BRACELETBOOK.COM</text>
</svg>
